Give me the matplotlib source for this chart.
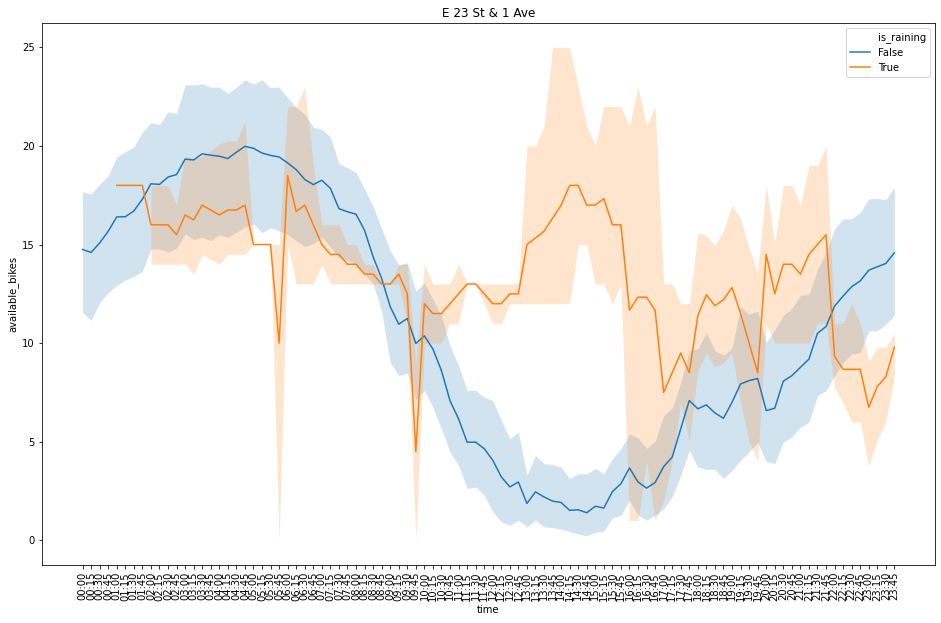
import numpy as np
import matplotlib
matplotlib.use("Agg")
import matplotlib.pyplot as plt
from matplotlib.lines import Line2D

nan = np.nan

# time of day, every 15 minutes
times = [f"{h:02d}:{m:02d}" for h in range(24) for m in (0, 15, 30, 45)]

# is_raining == False
false_mean = [14.75, 14.6, 15.08, 15.67, 16.4, 16.41, 16.7, 17.3, 18.08, 18.05,
              18.42, 18.55, 19.33, 19.29, 19.6, 19.53, 19.48, 19.36, 19.68, 19.98,
              19.88, 19.64, 19.52, 19.44, 19.14, 18.8, 18.3, 18.04, 18.26, 17.85,
              16.82, 16.66, 16.54, 15.72, 14.38, 13.28, 11.85, 10.96, 11.25, 9.98,
              10.37, 9.7, 8.6, 7.08, 6.16, 4.98, 4.98, 4.65, 4.06, 3.22,
              2.71, 2.96, 1.87, 2.46, 2.2, 1.99, 1.92, 1.52, 1.55, 1.4,
              1.73, 1.64, 2.47, 2.87, 3.67, 2.96, 2.65, 2.93, 3.74, 4.22,
              5.66, 7.09, 6.67, 6.87, 6.46, 6.19, 7.0, 7.93, 8.1, 8.21,
              6.58, 6.7, 8.07, 8.35, 8.77, 9.19, 10.5, 10.84, 11.88, 12.39,
              12.86, 13.15, 13.7, 13.87, 14.04, 14.58]
false_high = [17.68, 17.56, 18.06, 18.48, 19.44, 19.7, 19.95, 20.7, 21.18, 21.08,
              21.73, 21.65, 23.1, 23.1, 23.15, 22.98, 22.98, 22.66, 22.98, 23.35,
              23.14, 23.35, 22.95, 22.98, 22.45, 21.95, 21.6, 20.95, 20.83, 20.46,
              19.1, 18.9, 18.65, 17.8, 16.95, 15.8, 14.7, 13.97, 14.07, 12.64,
              13.06, 12.22, 11.38, 9.87, 8.86, 7.6, 7.6, 7.26, 7.09, 6.08,
              5.15, 5.49, 3.3, 4.31, 3.89, 3.84, 3.72, 3.13, 3.38, 3.38,
              3.64, 3.38, 4.14, 4.65, 5.4, 5.19, 4.65, 5.02, 6.33, 6.7,
              8.01, 9.61, 9.73, 10.53, 9.61, 9.39, 9.73, 11.85, 11.46, 11.63,
              10.03, 10.67, 11.41, 11.75, 12.42, 12.47, 13.74, 14.6, 15.79, 16.3,
              16.3, 16.63, 17.31, 17.34, 17.27, 17.9]
false_low = [11.55, 11.16, 12.05, 12.56, 12.93, 13.2, 13.38, 13.64, 14.78, 14.78,
             14.61, 14.81, 15.54, 15.25, 15.37, 15.2, 15.49, 15.37, 15.62, 15.88,
             16.05, 15.6, 15.85, 15.7, 15.5, 15.2, 14.9, 15.03, 15.38, 14.88,
             14.3, 14.2, 14.0, 13.5, 13.0, 11.6, 9.02, 8.35, 8.48, 7.12,
             7.6, 6.75, 5.65, 4.48, 3.8, 2.63, 2.71, 2.29, 1.45, 0.94,
             0.77, 1.03, 0.69, 1.03, 0.69, 0.64, 0.57, 0.44, 0.32, 0.24,
             0.4, 0.47, 1.14, 1.28, 2.03, 1.28, 1.03, 1.28, 1.6, 2.2,
             3.3, 4.56, 3.72, 3.6, 3.6, 3.13, 3.55, 4.06, 4.48, 4.98,
             4.0, 3.89, 4.98, 5.24, 5.74, 5.99, 7.34, 7.59, 8.35, 9.02,
             9.44, 9.53, 10.62, 10.62, 10.96, 11.41]

# is_raining == True
true_mean = [nan, nan, nan, nan, 18, 18, 18, 18, 16, 16,
             16, 15.5, 16.5, 16.25, 17, 16.75, 16.5, 16.75, 16.75, 17,
             15, 15, 15, 10, 18.5, 16.67, 17, 16, 15, 14.5,
             14.5, 14, 14, 13.5, 13.5, 13, 13, 13.5, 12.5, 4.5,
             12, 11.5, 11.5, 12, 12.5, 13, 13, 12.5, 12, 12,
             12.5, 12.5, 15, 15.33, 15.67, 16.33, 17, 18, 18, 17,
             17, 17.33, 16, 16, 11.67, 12.33, 12.33, 11.67, 7.5, 8.5,
             9.5, 8.5, 11.4, 12.45, 11.9, 12.2, 12.82, 11.5, 10, 8.5,
             14.5, 12.5, 14, 14, 13.5, 14.5, 15, 15.5, 9.33, 8.67,
             8.67, 8.67, 6.75, 7.8, 8.3, 9.8]
true_high = [nan, nan, nan, nan, nan, nan, nan, nan, 18, 18,
             18, 17, 19.5, 19.3, 19.5, 19.75, 20.1, 20.25, 20.25, 21.25,
             15, 15, 15, 15, 22, 22, 23, 19, 16, 16,
             16, 15, 15, 14, 14, 13, 13, 14, 14, 9,
             14, 13, 13, 13, 14, 13, 13, 13, 13, 13,
             13, 13, 20, 20, 21, 25, 25, 25, 23, 21,
             20, 22, 22, 22, 21, 23, 21, 22, 13, 13,
             12, 12, 15.6, 15.45, 14.95, 15.7, 17, 16.3, 14.8, 13.6,
             18, 15, 18, 18, 17, 19, 19, 20, 11, 11,
             12, 11, 9.1, 9.78, 9.78, 10.5]
true_low = [nan, nan, nan, nan, nan, nan, nan, nan, 14, 14,
            14, 14, 14, 13.5, 14.5, 14.25, 14, 14.5, 14.5, 14.5,
            15, 15, 15, 0, 15, 13, 13, 13, 14, 13,
            13, 13, 13, 13, 13, 13, 13, 13, 11, 0,
            10, 10, 10, 11, 11, 13, 13, 12, 11, 11,
            12, 12, 12, 12, 12, 12, 12, 12, 15, 15,
            13, 13, 12, 13, 1, 1, 4, 1, 2, 4,
            7, 5, 8.6, 9.5, 8.8, 9.0, 9.5, 7, 5, 4,
            11, 10, 10, 10, 10, 10, 11, 11, 7.7, 7.0,
            6.0, 6.0, 3.75, 5.1, 6.0, 8.35]

x = np.arange(len(times))

fig = plt.figure(figsize=(941 / 72, 623 / 72), dpi=72)
ax = fig.add_axes([0.0446, 0.0931, 0.949, 0.8705])

blue = "#1f77b4"
orange = "#ff7f0e"

ax.plot(x, false_mean, color=blue, lw=1.5, label="False")
ax.fill_between(x, false_low, false_high, color=blue, alpha=0.2, lw=0)
ax.plot(x, true_mean, color=orange, lw=1.5, label="True")
ax.fill_between(x, true_low, true_high, color=orange, alpha=0.2, lw=0)

ax.set_xticks(x)
ax.set_xticklabels(times, rotation=90)
ax.set_yticks([0, 5, 10, 15, 20, 25])
ax.set_xlabel("time")
ax.set_ylabel("available_bikes")
ax.set_title("E 23 St & 1 Ave")

handles = [Line2D([], [], color="none"),
           Line2D([], [], color=blue, lw=1.5),
           Line2D([], [], color=orange, lw=1.5)]
ax.legend(handles, ["is_raining", "False", "True"], loc="upper right")

fig.savefig("out.png", dpi=72)
